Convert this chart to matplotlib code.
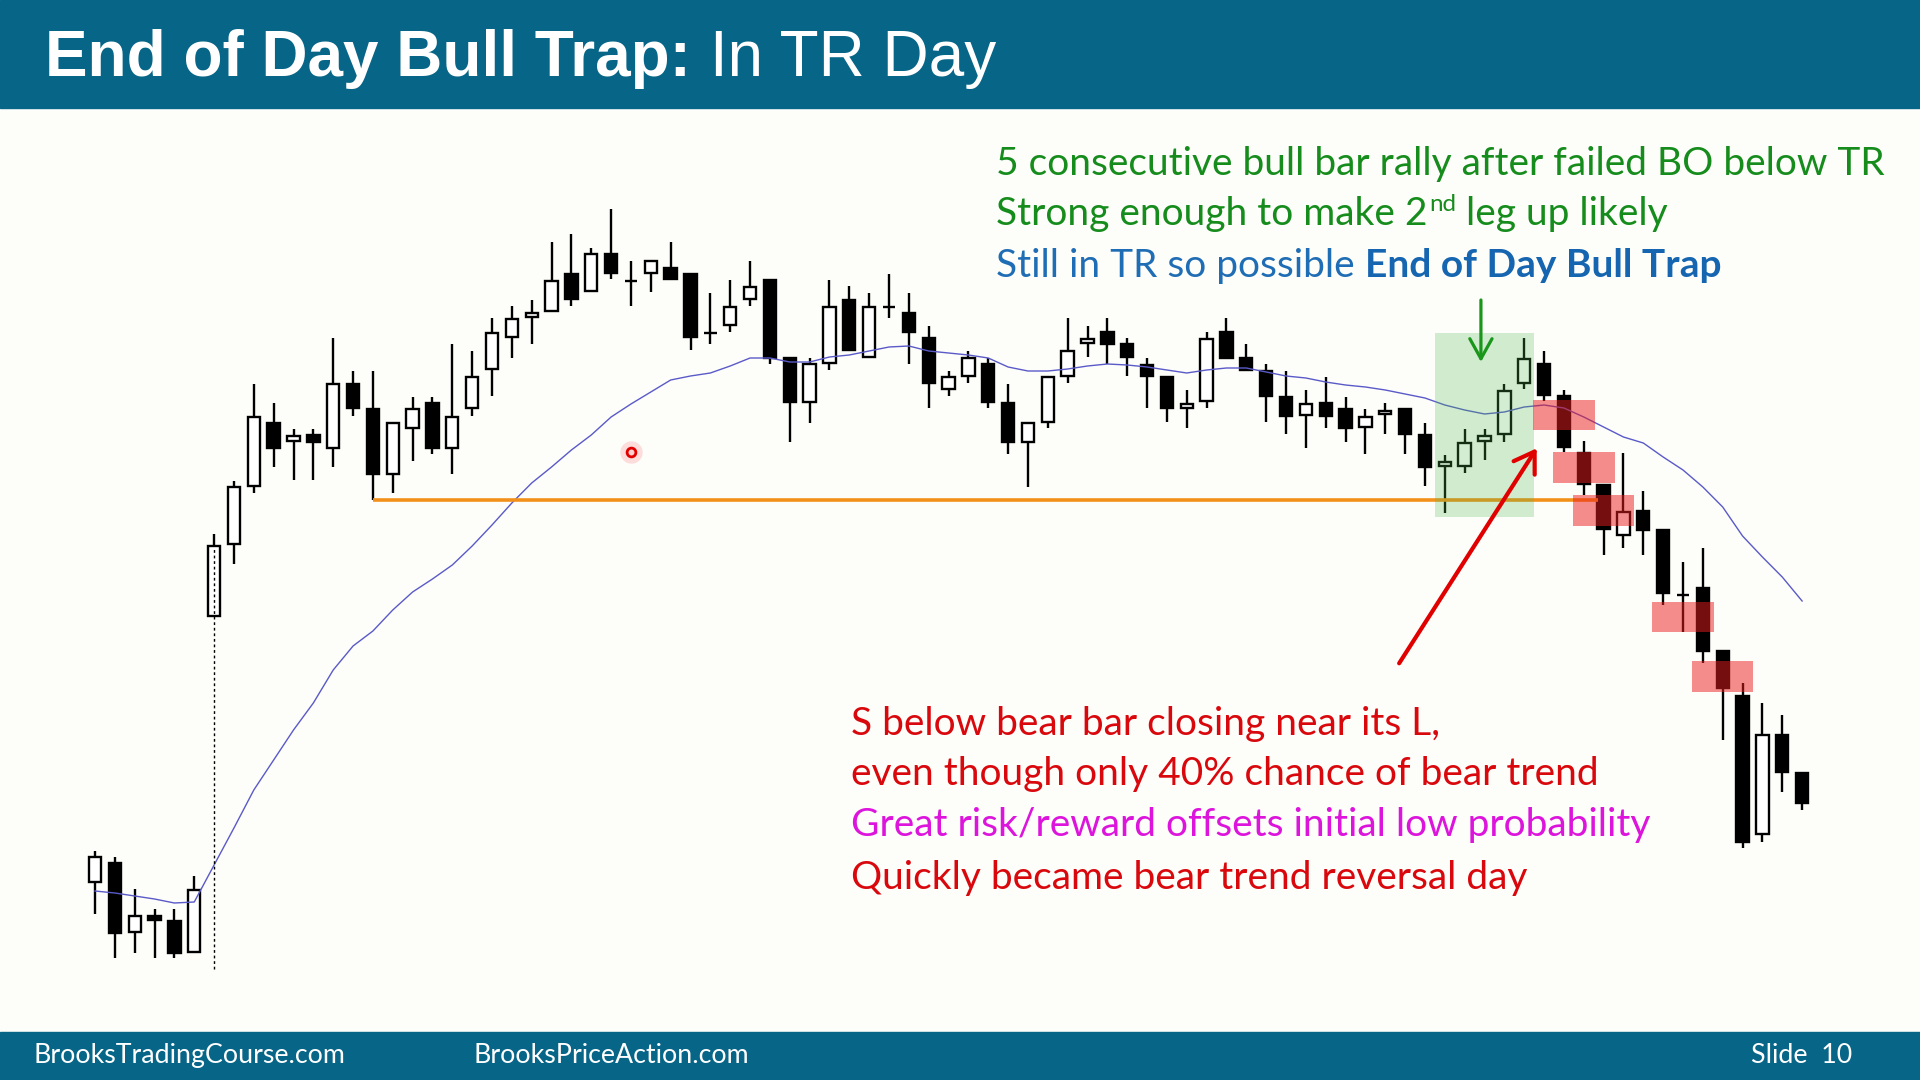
import matplotlib
matplotlib.use("Agg")
import numpy as np
import matplotlib.pyplot as plt
from matplotlib.patches import Rectangle

# 5 min bars (price in chart points)
opens = [118, 137, 68, 84, 79, 48, 384, 456, 514, 577, 559, 565, 552, 616, 591, 526, 572, 597,
         552, 592, 631, 663, 683, 689, 726, 709, 746, 719.5, 727, 732, 726, 667.5, 675, 701,
         720, 642, 598, 637, 700, 643, 693.5, 687, 662, 611, 624, 636, 597, 558, 578, 624, 657,
         668, 656, 635, 623, 592, 599, 668, 642, 629, 603, 585, 597, 591, 573, 586, 591, 565,
         534, 534, 559, 566, 617, 636, 604, 547, 515, 465, 489, 470, 405.5, 412, 349, 304,
         166, 265, 227]
highs = [149, 143, 111, 91, 91, 124, 466, 519, 616, 597, 571, 571, 662, 629, 629, 577, 603, 603,
         656, 649, 682, 694, 700, 758, 766, 752, 791, 739, 739, 758, 726, 707, 720, 739, 720,
         642, 642, 720, 714, 707, 726, 707, 674, 629, 649, 642, 616, 577, 623, 682, 674, 682,
         662, 642, 623, 610, 668, 682, 656, 636, 629, 610, 623, 603, 591, 597, 591, 577, 545,
         571, 571, 616, 662, 649, 610, 559, 515, 547, 509, 470, 438, 452, 349, 317, 297, 285,
         227]
lows = [86, 42, 47, 42, 42, 48, 383, 436, 507, 533, 520, 520, 533, 584, 500, 507, 539, 546, 526,
        584, 604, 642, 656, 689, 694, 709, 721, 694, 708, 721, 650, 656, 668, 694, 636, 558, 577,
        630, 650, 643, 682, 636, 592, 604, 617, 592, 546, 513, 572, 617, 643, 636, 624, 592, 578,
        572, 592, 642, 630, 578, 566, 552, 572, 558, 546, 566, 546, 514, 487, 527, 540, 558, 611,
        599, 548, 505, 445, 452, 445, 395, 368, 337, 260, 152, 158, 208, 190]
closes = [143, 67, 84, 80, 47, 110, 454, 513, 583, 552, 564, 558, 616, 592, 526, 577, 591, 552,
          583, 623, 667, 681, 687, 719, 701, 746, 727, 719, 739, 721, 663, 667, 693, 713, 642,
          598, 636, 693, 650, 693, 693, 668, 617, 623, 642, 598, 558, 577, 623, 649, 661, 656,
          643, 624, 592, 596, 661, 642, 630, 604, 584, 596, 584, 572, 583, 589, 566, 533, 538,
          557, 564, 609, 641, 605, 553, 516, 471, 488, 470, 407, 405, 349, 312, 158, 265, 228,
          197]
ema20 = [109, 107, 104, 101, 97, 98, 135, 172, 210, 240, 270, 297, 330, 354, 369, 390, 408, 421,
         435, 454, 475, 497, 517, 533, 550, 565, 583, 596, 608, 620, 624, 627, 634, 642, 642, 638,
         638, 643, 645, 649, 653, 654, 649, 647, 645, 642, 633, 629, 629, 631, 634, 636, 635, 633,
         630, 627, 630, 632, 632, 628, 624, 622, 618, 615, 613, 610, 606, 602, 595, 590, 586, 588,
         593, 595, 592, 583, 573, 563, 557, 543, 530, 513, 493, 464, 443, 423, 399]

tr_low = 500            # bottom of trading range (orange line)
tr_from, tr_to = 14, 75.7
gap_bar = 6             # first bar of the day (dotted line)
bull_box_x = (67.5, 72.5)
bull_box_y = (483, 667)
sell_bars = [74, 75, 76, 80, 82]
sell_lo = [570, 517, 474, 368, 308]
sell_hi = [600, 548, 505, 398, 339]

top_notes = ["5 consecutive bull bar rally after failed BO below TR",
             "Strong enough to make 2", "nd", "leg up likely",
             "Still in TR so possible", "End of Day Bull Trap"]
bottom_notes = ["S below bear bar closing near its L,",
                "even though only 40% chance of bear trend",
                "Great risk/reward offsets initial low probability",
                "Quickly became bear trend reversal day"]

W, H = 1920, 1080
BAR = "#076587"
GREEN = "#168c1c"
BLUE = "#1f6db4"
RED = "#d9080d"
MAGENTA = "#dc14dc"

fig = plt.figure(figsize=(19.2, 10.8), dpi=100, facecolor="#fdfdfa")
ax = fig.add_axes([0, 0, 1, 1])
ax.set_xlim(-95 / 19.85, (W - 95) / 19.85)
ax.set_ylim(-80, 1000)
ax.axis("off")

o = np.array(opens, float)
h = np.array(highs, float)
l = np.array(lows, float)
c = np.array(closes, float)
x = np.arange(len(o))
bull = c >= o

ax.vlines(x, l, h, color="black", lw=1.7, zorder=2)
ax.bar(x, np.abs(c - o), bottom=np.minimum(o, c), width=0.62,
       color=np.where(bull, "white", "black"), edgecolor="black", linewidth=1.7, zorder=3)
ax.plot(x, ema20, color="#5a5ac8", lw=1.0, zorder=4)
ax.vlines(gap_bar, 31, c[gap_bar] - 2, color="black", lw=1.0, linestyles=(0, (2, 2)), zorder=4)
ax.hlines(tr_low, tr_from, tr_to, color="#f39019", lw=2.6, zorder=4)

ax.add_patch(Rectangle((bull_box_x[0], bull_box_y[0]), bull_box_x[1] - bull_box_x[0],
                       bull_box_y[1] - bull_box_y[0], facecolor="#4cb84c", alpha=0.25,
                       lw=0, zorder=6))
for b, lo, hi in zip(sell_bars, sell_lo, sell_hi):
    ax.add_patch(Rectangle((b - 1.55, lo), 3.1, hi - lo, facecolor="#eb1c1c", alpha=0.5,
                           lw=0, zorder=6))

ax.annotate("", xy=(69.82, 638), xytext=(69.82, 700),
            arrowprops=dict(arrowstyle="->,head_length=0.72,head_width=0.4", color="#1a961a",
                            lw=2.3, mutation_scale=20, shrinkA=0, shrinkB=0), zorder=7)
ax.annotate("", xy=(72.63, 551.7), xytext=(65.7, 336.7),
            arrowprops=dict(arrowstyle="->,head_length=0.7,head_width=0.45", color="#e00000",
                            lw=3, mutation_scale=20, shrinkA=0, shrinkB=0), zorder=7)

# mouse pointer left on the slide
ax.scatter([26.98], [548], s=260, color="#ff8080", alpha=0.25, lw=0, zorder=7)
ax.scatter([26.98], [548], s=40, facecolor="#ffd0d0", edgecolor="#e00000", lw=2, zorder=8)

# header and footer bars
fig.add_artist(Rectangle((0, 1 - 108 / H), 1, 108 / H, transform=fig.transFigure,
                         color=BAR, zorder=10))
fig.add_artist(Rectangle((0, 0), 1, 48 / H, transform=fig.transFigure, color=BAR, zorder=10))

rend = fig.canvas.get_renderer()


def put(px, py, s, **kw):
    return fig.text(px / W, 1 - py / H, s, ha="left", va="baseline", zorder=11, **kw)


def wid(t):
    return t.get_window_extent(rend).width


def space(size, family, weight="normal"):
    a = put(0, 0, "x x", fontsize=size, family=family, fontweight=weight)
    b = put(0, 0, "xx", fontsize=size, family=family, fontweight=weight)
    d = wid(a) - wid(b)
    a.remove()
    b.remove()
    return d


# title
t = put(45, 76, "End of Day Bull Trap:", fontsize=46, fontweight="bold", color="white",
        family="Liberation Sans")
put(45 + wid(t) + space(46, "Liberation Sans") + 1, 76, "In TR Day", fontsize=46,
    color="white", family="Liberation Sans")

# notes, size fitted to the first line width
F = "Lato"
p = put(0, 0, top_notes[0], fontsize=30, family=F)
fs = 30 * 888 / wid(p)
p.remove()
sp = space(fs, F)

put(996, 175, top_notes[0], fontsize=fs, family=F, color=GREEN)
t = put(996, 225, top_notes[1], fontsize=fs, family=F, color=GREEN)
xx = 996 + wid(t) + 2
t = put(xx, 211, top_notes[2], fontsize=fs * 0.62, family=F, color=GREEN)
xx += wid(t) + sp
put(xx, 225, top_notes[3], fontsize=fs, family=F, color=GREEN)
t = put(996, 277, top_notes[4], fontsize=fs, family=F, color=BLUE)
put(996 + wid(t) + sp, 277, top_notes[5], fontsize=fs, family=F, color="#1565b0",
    fontweight="bold")

for txt, yb, col in zip(bottom_notes, [735, 785, 836, 889], [RED, RED, MAGENTA, RED]):
    put(851, yb, txt, fontsize=fs, family=F, color=col)

# footer
p = put(0, 0, "BrooksTradingCourse.com", fontsize=16, family=F)
ffs = 16 * 312 / wid(p)
p.remove()
put(34, 1063, "BrooksTradingCourse.com", fontsize=ffs, family=F, color="white")
put(474, 1063, "BrooksPriceAction.com", fontsize=ffs, family=F, color="white")
put(1751, 1063, "Slide  10", fontsize=ffs, family=F, color="white")

fig.savefig("out.png", dpi=100, facecolor=fig.get_facecolor())
